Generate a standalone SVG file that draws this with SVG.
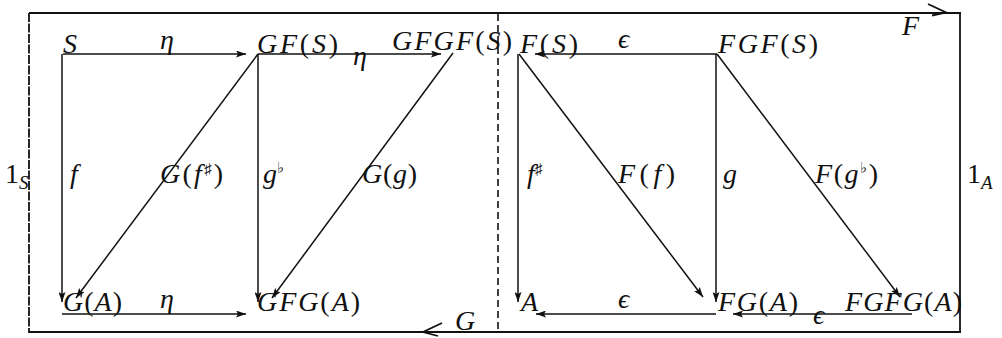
<svg xmlns="http://www.w3.org/2000/svg" width="1002" height="338" viewBox="0 0 1002 338">
<style>
  .bg { fill: #ffffff; }
  .ln { stroke: #111; stroke-width: 1.5; fill: none; }
  .fr { stroke: #111; stroke-width: 1.8; fill: none; }
  .dash { stroke: #111; stroke-width: 1.6; fill: none; stroke-dasharray: 7 4; }
  .ldash { stroke: #111; stroke-width: 1.8; fill: none; stroke-dasharray: 9 1.5; }
  text { font-family: 'Liberation Serif', 'DejaVu Serif', serif; font-style: italic; font-size: 28px; fill: #111; }
  .u { font-style: normal; }
  .s { font-size: 19px; }
  .sup { font-size: 15px; font-style: normal; }
</style>
<defs>
  <marker id="ah" viewBox="0 0 10 7" refX="10" refY="3.5" markerWidth="10" markerHeight="7" markerUnits="userSpaceOnUse" orient="auto">
    <path d="M0,0 L10,3.5 L0,7 L2,3.5 z" fill="#111"/>
  </marker>
</defs>
<rect class="bg" x="0" y="0" width="1002" height="338"/>

<g id="connectors">
  <line class="fr" x1="29" y1="13" x2="961" y2="13"/>
  <line class="fr" x1="960" y1="13" x2="960" y2="333"/>
  <line class="fr" x1="29" y1="332" x2="961" y2="332"/>
  <line class="ldash" x1="29" y1="13" x2="29" y2="333"/>
  <path class="fr" d="M928,4 L946,12.5 L932,15.5"/>
  <path class="fr" d="M442,323 L423,332 L438,336"/>
  <line class="dash" x1="498" y1="14" x2="498" y2="332"/>
  <line class="ln" x1="63" y1="54" x2="246" y2="54" marker-end="url(#ah)"/>
  <line class="ln" x1="258" y1="54" x2="441" y2="54" marker-end="url(#ah)"/>
  <line class="ln" x1="717" y1="54" x2="535" y2="54" marker-end="url(#ah)"/>
  <line class="ln" x1="62" y1="314" x2="246" y2="314" marker-end="url(#ah)"/>
  <line class="ln" x1="716" y1="314" x2="536" y2="314" marker-end="url(#ah)"/>
  <line class="ln" x1="912" y1="314" x2="733" y2="314" marker-end="url(#ah)"/>
  <line class="ln" x1="62" y1="54" x2="62" y2="302" marker-end="url(#ah)"/>
  <line class="ln" x1="258" y1="54" x2="258" y2="302" marker-end="url(#ah)"/>
  <line class="ln" x1="518" y1="54" x2="518" y2="302" marker-end="url(#ah)"/>
  <line class="ln" x1="716" y1="54" x2="716" y2="302" marker-end="url(#ah)"/>
  <line class="ln" x1="258" y1="54" x2="76" y2="298" marker-end="url(#ah)"/>
  <line class="ln" x1="453" y1="53" x2="272" y2="298" marker-end="url(#ah)"/>
  <line class="ln" x1="519" y1="54" x2="703" y2="297" marker-end="url(#ah)"/>
  <line class="ln" x1="717" y1="54" x2="900" y2="297" marker-end="url(#ah)"/>
</g>

<g id="node-S"><text x="63" y="53">S</text></g>
<g id="node-GFS"><text x="257" y="53" textLength="81" lengthAdjust="spacing">GF<tspan class="u">(</tspan>S<tspan class="u">)</tspan></text></g>
<g id="node-GFGFS"><text x="392" y="50" textLength="120" lengthAdjust="spacing">GFGF<tspan class="u">(</tspan>S<tspan class="u">)</tspan></text></g>
<g id="node-FS"><text x="520" y="53" textLength="58" lengthAdjust="spacing">F<tspan class="u">(</tspan>S<tspan class="u">)</tspan></text></g>
<g id="node-FGFS"><text x="718" y="53" textLength="100" lengthAdjust="spacing">FGF<tspan class="u">(</tspan>S<tspan class="u">)</tspan></text></g>
<g id="node-GA"><text x="63" y="311" textLength="59" lengthAdjust="spacing">G<tspan class="u">(</tspan>A<tspan class="u">)</tspan></text></g>
<g id="node-GFGA"><text x="257" y="311" textLength="103" lengthAdjust="spacing">GFG<tspan class="u">(</tspan>A<tspan class="u">)</tspan></text></g>
<g id="node-A"><text x="521" y="311">A</text></g>
<g id="node-FGA"><text x="718" y="311" textLength="80" lengthAdjust="spacing">FG<tspan class="u">(</tspan>A<tspan class="u">)</tspan></text></g>
<g id="node-FGFGA"><text x="845" y="311" textLength="117" lengthAdjust="spacing">FGFG<tspan class="u">(</tspan>A<tspan class="u">)</tspan></text></g>

<g id="labels">
  <text x="160" y="49">η</text>
  <text x="353" y="65">η</text>
  <text x="618" y="48">ϵ</text>
  <text x="902" y="35">F</text>
  <text x="160" y="308">η</text>
  <text x="618" y="308">ϵ</text>
  <text x="813" y="324">ϵ</text>
  <text x="455" y="330">G</text>

  <text x="5" y="183"><tspan class="u">1</tspan><tspan class="s" dy="6">S</tspan></text>
  <text x="70" y="183">f</text>
  <text x="160" y="183" textLength="63" lengthAdjust="spacing">G<tspan class="u">(</tspan>f<tspan class="sup" dy="-9">♯</tspan><tspan class="u" dy="9">)</tspan></text>
  <text x="263" y="183">g<tspan class="sup" dy="-10">♭</tspan></text>
  <text x="362" y="183" textLength="55" lengthAdjust="spacing">G<tspan class="u">(</tspan>g<tspan class="u">)</tspan></text>

  <text x="527" y="183">f<tspan class="sup" dy="-9">♯</tspan></text>
  <text x="618" y="183" textLength="57" lengthAdjust="spacing">F<tspan class="u">(</tspan>f<tspan class="u">)</tspan></text>
  <text x="723" y="183">g</text>
  <text x="815" y="183" textLength="63" lengthAdjust="spacing">F<tspan class="u">(</tspan>g<tspan class="sup" dy="-10">♭</tspan><tspan class="u" dy="10">)</tspan></text>
  <text x="967" y="183"><tspan class="u">1</tspan><tspan class="s" dy="6">A</tspan></text>
</g>
</svg>
